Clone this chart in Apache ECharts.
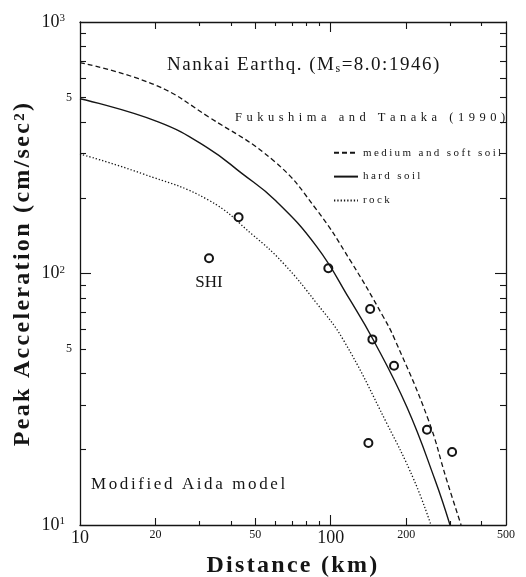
<!DOCTYPE html>
<html><head><meta charset="utf-8">
<script src="https://cdn.jsdelivr.net/npm/echarts@6/dist/echarts.min.js"></script>
<style>html,body{margin:0;padding:0;background:#fff}#c{width:526px;height:577px}</style>
</head><body><div id="c"></div>
<script>
// ---------------- data ----------------
const softDist = [10, 19.9, 32.5, 59.9, 87.9, 119.4, 162, 180.5, 245, 290, 331];
const softAcc  = [689, 562, 420, 278, 179, 113, 67.3, 54.4, 26.2, 15.1, 10];
const hardDist = [10, 20.5, 32.5, 44.2, 59.9, 87.9, 119.4, 147.9, 201, 260.6, 299];
const hardAcc  = [495, 401, 314.6, 250, 196, 127.9, 78.5, 54.4, 29.5, 15.1, 10];
const rockDist = [10, 17.6, 32.5, 49, 64.7, 87.9, 112.3, 167.2, 214.8, 251];
const rockAcc  = [298.7, 250, 196, 142, 109.8, 76.1, 54.4, 25.4, 15.1, 10];
const obsDist  = [32.7, 42.9, 97.8, 143.6, 146.6, 178.8, 242, 141.3, 304.8];
const obsAcc   = [114.9, 167.3, 104.9, 72.3, 54.7, 43.0, 23.9, 21.2, 19.5];
const obsName  = ['SHI', '', '', '', '', '', '', '', ''];
const seriesNames = ['medium and soft soil', 'hard soil', 'rock'];

const xLabelVals = [10, 20, 50, 100, 200, 500];
const xTickMid   = [20, 50, 200];
const xTickLong  = [100];
const xTickShort = [30, 40, 60, 70, 80, 90, 300, 400];
const yLabelVals = [10, 50, 100, 500, 1000];
const yTickShort = [20, 30, 40, 50, 60, 70, 80, 90, 200, 300, 400, 500, 600, 700, 800, 900];
const yTickLong  = [100];

// ---------------- letter-spacing support for canvas text ----------------
const SPACING = { a: 2.3, b: 1.5, c: 4.5, d: 2.4, e: 2.6 };
(function () {
  const proto = CanvasRenderingContext2D.prototype;
  const oFill = proto.fillText, oMeasure = proto.measureText;
  function sp(font) { const m = /\bls([a-e])\b/i.exec(font || ''); return m ? SPACING[m[1].toLowerCase()] : 0; }
  proto.measureText = function (t) {
    const m = oMeasure.call(this, t);
    const s = sp(this.font);
    if (!s) return m;
    return { width: m.width + s * String(t).length,
      actualBoundingBoxAscent: m.actualBoundingBoxAscent, actualBoundingBoxDescent: m.actualBoundingBoxDescent,
      actualBoundingBoxLeft: m.actualBoundingBoxLeft, actualBoundingBoxRight: m.actualBoundingBoxRight + s * String(t).length,
      fontBoundingBoxAscent: m.fontBoundingBoxAscent, fontBoundingBoxDescent: m.fontBoundingBoxDescent };
  };
  proto.fillText = function (t, x, y, mw) {
    const s = sp(this.font);
    if (!s) { return mw === undefined ? oFill.call(this, t, x, y) : oFill.call(this, t, x, y, mw); }
    t = String(t);
    const total = oMeasure.call(this, t).width + s * t.length;
    const align = this.textAlign;
    let cx = x;
    if (align === 'center') cx = x - total / 2;
    else if (align === 'right' || align === 'end') cx = x - total;
    this.textAlign = 'left';
    for (const ch of t) { oFill.call(this, ch, cx, y); cx += oMeasure.call(this, ch).width + s; }
    this.textAlign = align;
  };
})();

// ---------------- chart ----------------
const INK = '#151515';
const SERIF = '"Liberation Serif", serif';
const pairs = (xs, ys) => xs.map((v, i) => [v, ys[i]]);

function xAxis(position, ticks, len, labels, line, extra) {
  return Object.assign({
    type: 'log', logBase: 10, min: 10, max: 500, position: position,
    axisLine: { show: line, lineStyle: { color: INK, width: 1.3 } },
    axisTick: { show: true, inside: true, length: len, customValues: ticks, lineStyle: { color: INK, width: 1.1 } },
    axisLabel: labels ? {
      show: true, customValues: xLabelVals, margin: 4, color: INK,
      formatter: function (v) { const r = Math.round(v); return (r === 10 || r === 100) ? '{b|' + r + '}' : '{s|' + r + '}'; },
      rich: {
        b: { fontFamily: SERIF, fontSize: 18, lineHeight: 18, color: INK },
        s: { fontFamily: SERIF, fontSize: 12, lineHeight: 12, color: INK }
      }
    } : { show: false },
    splitLine: { show: false }, minorTick: { show: false }, minorSplitLine: { show: false }
  }, extra || {});
}
function yAxis(position, ticks, len, labels, line, extra) {
  return Object.assign({
    type: 'log', logBase: 10, min: 10, max: 1000, position: position,
    axisLine: { show: line, lineStyle: { color: INK, width: 1.3 } },
    axisTick: { show: true, inside: true, length: len, customValues: ticks, lineStyle: { color: INK, width: 1.1 } },
    axisLabel: labels ? {
      show: true, customValues: yLabelVals, margin: 8, color: INK,
      formatter: function (v) {
        const r = Math.round(v);
        if (r === 50 || r === 500) return '{s|5}';
        return '{b|10}{p|' + Math.round(Math.log10(r)) + '}';
      },
      rich: {
        b: { fontFamily: SERIF, fontSize: 18, lineHeight: 18, color: INK },
        p: { fontFamily: SERIF, fontSize: 11, lineHeight: 11, verticalAlign: 'top', padding: [0, 7, 10, 0], color: INK },
        s: { fontFamily: SERIF, fontSize: 12, lineHeight: 12, color: INK }
      }
    } : { show: false },
    splitLine: { show: false }, minorTick: { show: false }, minorSplitLine: { show: false }
  }, extra || {});
}

const chart = echarts.init(document.getElementById('c'), null, { renderer: 'canvas' });
chart.setOption({
  animation: false,
  backgroundColor: '#ffffff',
  grid: { left: 80, right: 20, top: 22, bottom: 52, containLabel: false, outerBoundsMode: 'none' },
  xAxis: [
    xAxis('bottom', xTickMid, 7, true, true, {
      name: 'Distance (km)', nameLocation: 'middle', nameGap: 28, nameMoveOverlap: false,
      nameTextStyle: { fontFamily: 'LSa, ' + SERIF, fontWeight: 'bold', fontSize: 24, color: INK }
    }),
    xAxis('bottom', xTickLong, 10, false, false),
    xAxis('bottom', xTickShort, 4, false, false),
    xAxis('top', xTickMid, 7, false, true),
    xAxis('top', xTickLong, 10, false, false),
    xAxis('top', xTickShort, 4, false, false)
  ],
  yAxis: [
    yAxis('left', yTickShort, 6, true, true, {
      name: '{t|Peak Acceleration (cm/sec}{p|2}{t|)}', nameLocation: 'middle', nameGap: 45, nameRotate: 90,
      nameMoveOverlap: false,
      nameTextStyle: {
        color: INK,
        rich: {
          t: { fontFamily: 'LSa, ' + SERIF, fontWeight: 'bold', fontSize: 24, lineHeight: 24, color: INK },
          p: { fontFamily: 'LSa, ' + SERIF, fontWeight: 'bold', fontSize: 15, lineHeight: 15, verticalAlign: 'top', padding: [0, 0, 12, 0], color: INK }
        }
      }
    }),
    yAxis('left', yTickLong, 11, false, false),
    yAxis('right', yTickShort, 6, false, true),
    yAxis('right', yTickLong, 11, false, false)
  ],
  legend: {
    orient: 'vertical', left: 333, top: 146, padding: 0, itemWidth: 24, itemHeight: 12, itemGap: 10.5,
    data: seriesNames, selectedMode: false,
    itemStyle: { color: 'rgba(0,0,0,0)', borderColor: 'rgba(0,0,0,0)', borderWidth: 0, opacity: 0 },
    textStyle: { fontFamily: 'LSd, ' + SERIF, fontSize: 11, color: INK }
  },
  series: [
    { name: seriesNames[0], type: 'line', data: pairs(softDist, softAcc), symbol: 'none', smooth: 0.45,
      lineStyle: { color: INK, width: 1.3, type: [5, 3] }, itemStyle: { color: INK } },
    { name: seriesNames[1], type: 'line', data: pairs(hardDist, hardAcc), symbol: 'none', smooth: 0.45,
      lineStyle: { color: INK, width: 1.4, type: 'solid' }, itemStyle: { color: INK } },
    { name: seriesNames[2], type: 'line', data: pairs(rockDist, rockAcc), symbol: 'none', smooth: 0.45,
      lineStyle: { color: INK, width: 1.3, type: [1.3, 2] }, itemStyle: { color: INK } },
    { name: 'observed', type: 'scatter', symbol: 'emptyCircle', symbolSize: 8,
      itemStyle: { color: INK, borderColor: INK, borderWidth: 1.1, opacity: 1 },
      data: obsDist.map((d, i) => ({
        value: [d, obsAcc[i]],
        label: obsName[i] ? { show: true, formatter: obsName[i], position: 'bottom', distance: 11,
          fontFamily: SERIF, fontSize: 17, color: INK, textBorderWidth: 0, opacity: 1 } : { show: false }
      }))
    }
  ],
  graphic: [
    { type: 'text', left: 167, top: 54, silent: true,
      style: { text: '{a|Nankai Earthq. (M}{s|s}{a|=8.0:1946)}', fill: INK,
        rich: {
          a: { fontFamily: 'LSb, ' + SERIF, fontSize: 19, lineHeight: 20, fill: INK },
          s: { fontFamily: 'LSb, ' + SERIF, fontSize: 12, lineHeight: 12, verticalAlign: 'bottom', padding: [8, 0, 0, 0], fill: INK }
        } } },
    { type: 'text', left: 235, top: 108.5, silent: true,
      style: { text: 'Fukushima and Tanaka (1990)', fontFamily: 'LSc, ' + SERIF, fontSize: 12.5, fill: INK } },
    { type: 'text', left: 91, top: 474.5, silent: true,
      style: { text: 'Modified Aida model', fontFamily: 'LSe, ' + SERIF, fontSize: 17, fill: INK } }
  ]
});
</script>
</body></html>
